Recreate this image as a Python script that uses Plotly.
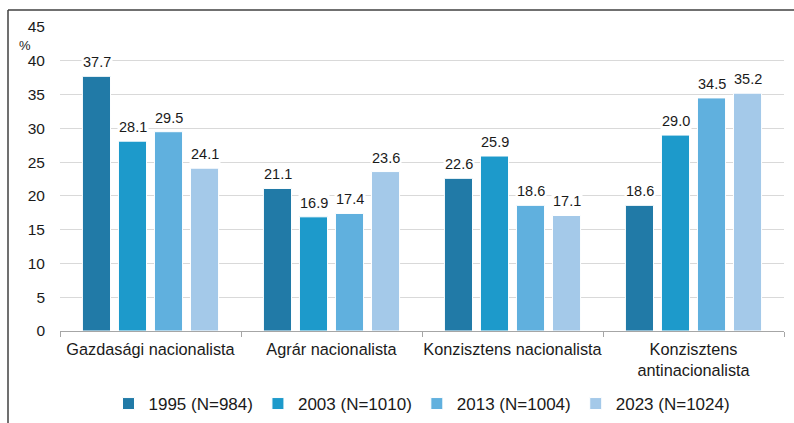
import plotly.graph_objects as go

categories = ["Gazdasági nacionalista", "Agrár nacionalista", "Konzisztens nacionalista", "Konzisztens<br>antinacionalista"]
series_names = ["1995 (N=984)", "2003 (N=1010)", "2013 (N=1004)", "2023 (N=1024)"]
v1995 = [37.7, 21.1, 22.6, 18.6]
v2003 = [28.1, 16.9, 25.9, 29.0]
v2013 = [29.5, 17.4, 18.6, 34.5]
v2023 = [24.1, 23.6, 17.1, 35.2]
y_ticks = [0, 5, 10, 15, 20, 25, 30, 35, 40, 45]

colors = ["#217AA7", "#1D9ACB", "#60B0DE", "#A4C9E9"]
series_values = [v1995, v2003, v2013, v2023]

FONT = "Liberation Sans, Arial, sans-serif"
fig = go.Figure()
for name, vals, col in zip(series_names, series_values, colors):
    fig.add_trace(go.Bar(
        x=categories, y=vals, name=name,
        marker=dict(color=col, line=dict(color="white", width=1)),
    ))

# data labels with white background (mask gridlines)
shifts = [-54, -18, 18, 54]
for vals, sh in zip(series_values, shifts):
    for c, v in zip(categories, vals):
        fig.add_annotation(x=c, y=v, text=f"{v:.1f}", showarrow=False,
                           xshift=sh, yshift=4, yanchor="bottom",
                           bgcolor="white", borderpad=1,
                           font=dict(family=FONT, size=14.5, color="#1a1a1a"))

L, T, W, H = 60, 27, 724, 304
def px(x): return (x - L) / W
def py(y): return (T + H - y) / H

fig.add_annotation(xref="paper", yref="paper", x=px(33), y=py(45), text="%",
                   showarrow=False, xanchor="right", yanchor="middle",
                   font=dict(family=FONT, size=13, color="#1a1a1a"))

# frame (top and left visible)
fig.add_shape(type="line", xref="paper", yref="paper", x0=px(8), x1=px(800), y0=py(10), y1=py(10),
              line=dict(color="#404040", width=1.5))
fig.add_shape(type="line", xref="paper", yref="paper", x0=px(8), x1=px(8), y0=py(10), y1=py(430),
              line=dict(color="#404040", width=1.5))

fig.update_layout(
    width=794, height=423,
    margin=dict(l=L, r=794 - L - W, t=T, b=423 - T - H),
    paper_bgcolor="white", plot_bgcolor="white",
    barmode="group", bargap=0.204, bargroupgap=0.22,
    font=dict(family=FONT, size=15, color="#1a1a1a"),
    showlegend=True,
    legend=dict(orientation="h", x=0.5, xanchor="center",
                yref="container", y=(423 - 404) / 423, yanchor="middle",
                font=dict(family=FONT, size=17, color="#1a1a1a"),
                itemwidth=30, tracegroupgap=0),
    xaxis=dict(showline=True, linecolor="#A6A6A6", linewidth=1, ticks="outside",
               tickson="boundaries", ticklen=5, tickcolor="#A6A6A6", tickangle=0,
               ticklabelstandoff=3, automargin=False,
               tickfont=dict(family=FONT, size=16.3, color="#1a1a1a"), showgrid=False),
    yaxis=dict(range=[0, 45], tickvals=y_ticks, showgrid=True, gridcolor="#D9D9D9",
               gridwidth=1, zeroline=False, showline=False, automargin=False,
               ticklabelstandoff=14,
               tickfont=dict(family=FONT, size=15.5, color="#1a1a1a")),
)

fig.write_html("out.html", config={"displayModeBar": False},
               post_script="document.body.style.margin='0';document.body.style.overflow='hidden';")
